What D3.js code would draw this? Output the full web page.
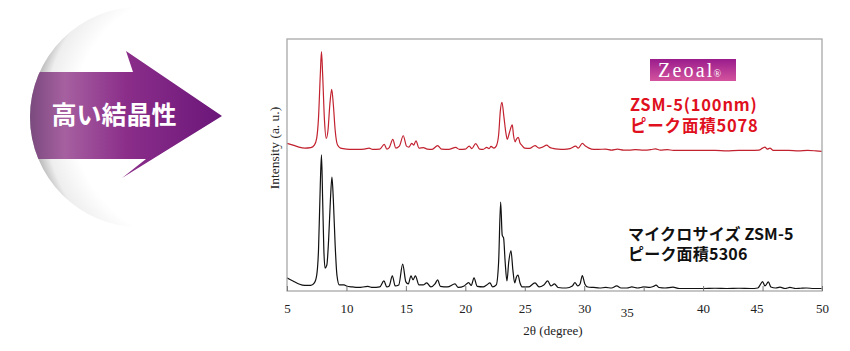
<!DOCTYPE html>
<html>
<head>
<meta charset="utf-8">
<script src="https://cdn.jsdelivr.net/npm/d3@7"></script>
<style>
  html, body { margin: 0; padding: 0; background: #fff; }
  svg { display: block; }
</style>
</head>
<body>
<div id="chart"></div>
<script>
// --- data (2theta in degree, intensity in a.u.) ---
const xTicks = [5, 10, 15, 20, 25, 30, 35, 40, 45, 50];

const microZSM5 = [
  [5.0, 5.2], [5.5, 4.0], [6.0, 2.8], [6.5, 2.2], [7.0, 2.2], [7.3, 3.2], [7.5, 6.3],
  [7.65, 16.3], [7.8, 42], [7.9, 54], [8.0, 36], [8.1, 16.3], [8.2, 9.1], [8.35, 10.3],
  [8.5, 20.2], [8.65, 36], [8.78, 45.2], [8.9, 36], [9.05, 18.3], [9.2, 6.3], [9.4, 2.4],
  [9.8, 2.4], [10.0, 2.0], [10.5, 1.6], [11.0, 1.4], [11.8, 1.8], [12.2, 1.4], [12.8, 1.6],
  [13.15, 4.0], [13.4, 1.6], [13.6, 2.0], [13.86, 6.0], [14.1, 2.0], [14.4, 2.4], [14.73, 10.7],
  [15.0, 3.6], [15.2, 2.8], [15.43, 6.0], [15.6, 4.4], [15.8, 6.0], [16.1, 2.4], [16.45, 2.4],
  [16.75, 3.2], [17.1, 1.6], [17.45, 2.8], [17.67, 4.4], [17.9, 1.8], [18.5, 1.6], [19.13, 2.8],
  [19.4, 1.4], [19.9, 2.0], [20.28, 3.3], [20.5, 2.2], [20.73, 5.2], [21.0, 1.8], [21.5, 1.6],
  [21.8, 2.4], [22.07, 3.2], [22.3, 1.6], [22.6, 2.4], [22.8, 11.5], [22.97, 35.3], [23.1, 22.2],
  [23.22, 21.0], [23.35, 11.5], [23.5, 4.0], [23.65, 11.5], [23.84, 15.9], [24.0, 8.3],
  [24.15, 3.2], [24.3, 5.6], [24.43, 6.3], [24.6, 3.2], [24.8, 1.6], [25.3, 1.6], [25.86, 3.2],
  [26.2, 1.6], [26.6, 2.4], [26.93, 4.0], [27.2, 2.0], [27.5, 2.8], [27.8, 1.4], [28.5, 1.2],
  [29.0, 2.0], [29.22, 3.3], [29.45, 2.0], [29.65, 2.8], [29.84, 6.1], [30.05, 2.8], [30.3, 1.6],
  [30.8, 1.4], [31.3, 1.2], [31.8, 1.4], [32.3, 1.2], [32.73, 2.0], [33.1, 1.2], [33.6, 1.2],
  [34.0, 1.6], [34.5, 1.2], [35.0, 1.6], [35.5, 1.4], [35.8, 1.8], [36.04, 2.3], [36.3, 1.4],
  [36.8, 1.2], [37.46, 1.5], [38.0, 1.0], [39.0, 1.0], [40.0, 1.0], [41.0, 1.1], [42.0, 1.0],
  [43.0, 1.1], [44.0, 1.0], [44.6, 1.2], [44.85, 2.8], [45.0, 3.7], [45.2, 2.0], [45.49, 3.6],
  [45.7, 1.6], [46.1, 1.2], [46.46, 1.5], [46.9, 1.0], [47.3, 1.4], [47.8, 1.0], [48.2, 1.1],
  [48.7, 1.2], [49.3, 1.0], [50.0, 1.0]
];

const zeoalZSM5 = [
  [5.0, 58.6], [5.5, 57.9], [6.0, 57.1], [6.5, 56.7], [7.0, 56.9], [7.3, 57.9], [7.5, 60.7],
  [7.65, 68.7], [7.8, 85.7], [7.9, 95.0], [8.0, 85.7], [8.15, 67.9], [8.3, 60.6], [8.45, 63.9],
  [8.6, 73.8], [8.76, 80.0], [8.9, 73.8], [9.05, 63.9], [9.25, 57.9], [9.5, 56.7], [10.0, 56.3],
  [10.5, 56.2], [11.0, 56.2], [11.5, 56.3], [11.9, 56.7], [12.2, 56.2], [12.8, 56.3],
  [13.18, 58.2], [13.4, 56.3], [13.6, 56.9], [13.9, 60.2], [14.15, 56.7], [14.45, 57.5],
  [14.78, 61.6], [15.05, 57.5], [15.25, 57.1], [15.49, 58.6], [15.65, 57.9], [15.85, 59.6],
  [16.1, 56.7], [16.47, 56.9], [16.8, 56.3], [17.2, 56.2], [17.67, 57.7], [18.0, 56.3],
  [18.6, 56.2], [19.19, 57.0], [19.5, 56.2], [20.0, 56.3], [20.33, 57.5], [20.55, 56.5],
  [20.87, 58.5], [21.2, 56.3], [21.5, 56.2], [21.8, 57.0], [22.0, 56.5], [22.16, 57.4],
  [22.4, 56.7], [22.6, 57.5], [22.8, 61.9], [22.95, 71.8], [23.08, 74.9], [23.25, 68.9],
  [23.4, 63.1], [23.53, 60.2], [23.7, 62.7], [23.95, 65.9], [24.05, 61.9], [24.18, 59.2],
  [24.3, 60.3], [24.46, 61.0], [24.6, 58.7], [24.74, 57.9], [25.0, 56.7], [25.4, 56.6],
  [25.86, 57.7], [26.2, 56.7], [26.5, 57.1], [26.84, 57.9], [27.1, 57.0], [27.37, 56.6],
  [27.8, 56.3], [28.3, 56.2], [28.8, 56.5], [29.28, 57.5], [29.5, 56.7], [29.84, 58.6],
  [30.1, 57.5], [30.4, 56.7], [30.77, 56.2], [31.2, 56.2], [31.8, 56.3], [32.3, 55.9],
  [32.8, 56.3], [33.3, 55.9], [33.8, 55.9], [34.3, 56.1], [35.0, 55.9], [35.6, 56.1],
  [36.0, 56.4], [36.4, 55.9], [37.0, 56.1], [37.5, 55.8], [38.2, 55.8], [39.0, 55.8],
  [40.0, 55.8], [41.0, 55.8], [42.0, 55.6], [43.0, 55.8], [44.0, 55.8], [44.7, 55.9],
  [45.0, 56.7], [45.2, 57.1], [45.4, 56.3], [45.62, 56.7], [45.9, 55.8], [46.5, 55.8],
  [47.2, 55.8], [48.0, 55.6], [48.8, 55.8], [49.5, 55.6], [50.0, 55.4]
];

const series = [
  { name: "zeoal", values: zeoalZSM5, color: "#c2222f" },
  { name: "micro", values: microZSM5, color: "#111111" }
];

// --- layout ---
const W = 850, H = 351;
const plot = { left: 287, right: 822, top: 39, bottom: 291 };

const svg = d3.select("#chart").append("svg")
  .attr("width", W)
  .attr("height", H);

const defs = svg.append("defs");

// sphere rim shading behind the arrow
const rim = defs.append("radialGradient")
  .attr("id", "rim")
  .attr("gradientUnits", "userSpaceOnUse")
  .attr("cx", 200).attr("cy", 117).attr("r", 172);
rim.append("stop").attr("offset", "0.74").attr("stop-color", "#ffffff");
rim.append("stop").attr("offset", "0.9").attr("stop-color", "#eeeeee");
rim.append("stop").attr("offset", "1").attr("stop-color", "#a2a2a2");

const arrowGrad = defs.append("linearGradient")
  .attr("id", "arrowGrad")
  .attr("gradientUnits", "userSpaceOnUse")
  .attr("x1", 30).attr("x2", 222).attr("y1", 0).attr("y2", 0);
arrowGrad.append("stop").attr("offset", "0").attr("stop-color", "#7a4a7e");
arrowGrad.append("stop").attr("offset", "0.18").attr("stop-color", "#a660a0");
arrowGrad.append("stop").attr("offset", "0.5").attr("stop-color", "#8b2e8a");
arrowGrad.append("stop").attr("offset", "1").attr("stop-color", "#6b167a");

defs.append("clipPath").attr("id", "disc")
  .append("circle").attr("cx", 140).attr("cy", 117).attr("r", 110);

const logoGrad = defs.append("linearGradient")
  .attr("id", "logoGrad")
  .attr("x1", 0).attr("x2", 0).attr("y1", 0).attr("y2", 1);
logoGrad.append("stop").attr("offset", "0").attr("stop-color", "#9a1c8c");
logoGrad.append("stop").attr("offset", "1").attr("stop-color", "#d4549e");

// --- left badge ---
const badge = svg.append("g");
badge.append("circle")
  .attr("cx", 140).attr("cy", 117).attr("r", 110)
  .attr("fill", "url(#rim)");

const arrowPts = [[20, 72], [133, 72], [126, 51], [222, 116], [122, 178], [146, 159], [20, 159]];
badge.append("path")
  .attr("clip-path", "url(#disc)")
  .attr("d", d3.line()(arrowPts) + "Z")
  .attr("fill", "url(#arrowGrad)");

badge.append("text")
  .attr("x", 114).attr("y", 124)
  .attr("text-anchor", "middle")
  .attr("fill", "#fff")
  .style("font-family", "'Noto Sans CJK JP', sans-serif")
  .style("font-weight", 700)
  .style("font-size", "25px")
  .text("高い結晶性");

// --- scales ---
const x = d3.scaleLinear().domain([5, 50]).range([plot.left, plot.right]);
const y = d3.scaleLinear().domain([0, 100]).range([plot.bottom, plot.top]);

const line = d3.line()
  .x(d => x(d[0]))
  .y(d => y(d[1]))
  .curve(d3.curveMonotoneX);

svg.selectAll("path.xrd")
  .data(series)
  .join("path")
  .attr("class", "xrd")
  .attr("d", d => line(d.values))
  .attr("fill", "none")
  .attr("stroke", d => d.color)
  .attr("stroke-width", 1.2)
  .attr("stroke-linejoin", "round");

// frame
svg.append("rect")
  .attr("x", plot.left).attr("y", plot.top)
  .attr("width", plot.right - plot.left)
  .attr("height", plot.bottom - plot.top)
  .attr("fill", "none")
  .attr("stroke", "#a8a8a8")
  .attr("stroke-width", 1.3);

// x axis: inward ticks, labels below
const labelNudge = { 35: [-17, 4], 45: [-6, 0] };
const xAxis = svg.append("g")
  .attr("transform", `translate(0, ${plot.bottom})`)
  .call(d3.axisBottom(x).tickValues(xTicks).tickSize(-5).tickPadding(13).tickFormat(d3.format("d")));
xAxis.select(".domain").remove();
xAxis.selectAll(".tick line").attr("stroke", "#777");
xAxis.selectAll(".tick text")
  .attr("fill", "#222")
  .style("font-family", "'Liberation Serif', 'Times New Roman', serif")
  .style("font-size", "13px")
  .attr("transform", d => labelNudge[d] ? `translate(${labelNudge[d][0]}, ${labelNudge[d][1]})` : null);

svg.append("text")
  .attr("x", 553).attr("y", 335)
  .attr("text-anchor", "middle")
  .attr("fill", "#222")
  .style("font-family", "'Liberation Serif', 'Times New Roman', serif")
  .style("font-size", "13px")
  .text("2θ (degree)");

svg.append("text")
  .attr("transform", "translate(279, 148) rotate(-90)")
  .attr("text-anchor", "middle")
  .attr("fill", "#222")
  .style("font-family", "'Liberation Serif', 'Times New Roman', serif")
  .style("font-size", "13.5px")
  .text("Intensity (a. u.)");

// --- annotations ---
const logo = svg.append("g");
logo.append("rect")
  .attr("x", 650).attr("y", 59)
  .attr("width", 86).attr("height", 22)
  .attr("fill", "url(#logoGrad)");
logo.append("text")
  .attr("x", 658).attr("y", 77)
  .attr("fill", "#fff")
  .style("font-family", "'Liberation Serif', 'Times New Roman', serif")
  .style("font-size", "20px")
  .style("letter-spacing", "2.2px")
  .text("Zeoal")
  .append("tspan")
  .style("font-size", "10px")
  .style("letter-spacing", "0px")
  .attr("dx", -1)
  .text("®");

const notes = [
  { lines: ["ZSM-5(100nm)", "ピーク面積5078"], x: 630, y: 111, step: 21, size: 16.5, spacing: 0.8, color: "#e0101e" },
  { lines: ["マイクロサイズ ZSM-5", "ピーク面積5306"], x: 628, y: 240, step: 20, size: 16, spacing: 0.2, color: "#111" }
];
notes.forEach(n => {
  svg.append("g").selectAll("text")
    .data(n.lines)
    .join("text")
    .attr("x", n.x)
    .attr("y", (d, i) => n.y + i * n.step)
    .attr("fill", n.color)
    .style("font-family", "'Noto Sans CJK JP', sans-serif")
    .style("font-weight", 700)
    .style("font-size", n.size + "px")
    .style("letter-spacing", n.spacing + "px")
    .text(d => d);
});
</script>
</body>
</html>
